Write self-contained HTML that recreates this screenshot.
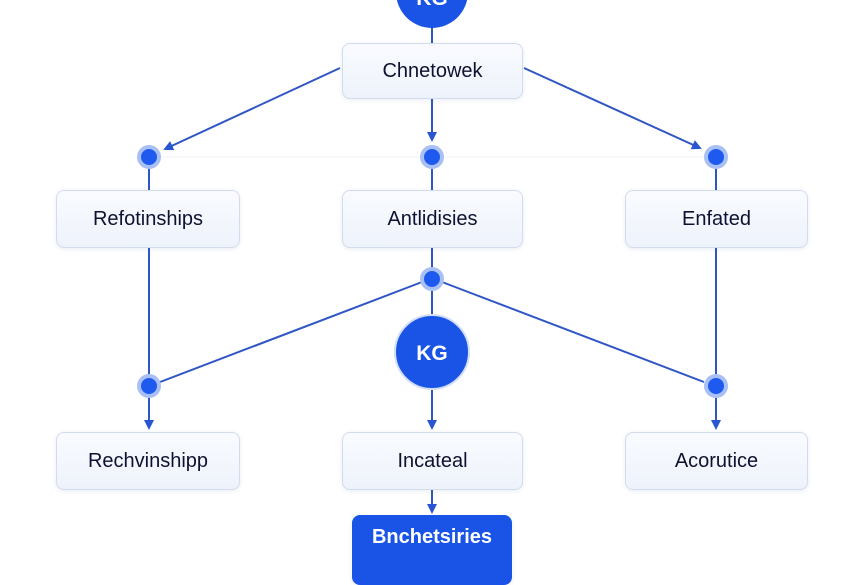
<!DOCTYPE html>
<html><head><style>
html,body{margin:0;padding:0;background:#fff;}
body{width:864px;height:576px;position:relative;overflow:hidden;font-family:"Liberation Sans",sans-serif;}
.box{position:absolute;box-sizing:border-box;border:1.5px solid #d3dcec;border-radius:8px;background:linear-gradient(#f9fbff,#eef3fb);display:flex;align-items:center;justify-content:center;font-size:20px;color:#0e1230;box-shadow:0 1px 4px rgba(60,90,160,0.12);}
svg{position:absolute;left:0;top:0;}
</style></head><body>
<svg width="864" height="576">
<defs><marker id="a" markerWidth="10" markerHeight="10" refX="8" refY="5" orient="auto" markerUnits="userSpaceOnUse"><path d="M0,0 L10,5 L0,10 z" fill="#2a55d0"/></marker></defs>
<line x1="160" y1="157" x2="705" y2="157" stroke="#f2f3f6" stroke-width="1"/>
<g stroke="#2f56c4" stroke-width="2" fill="none">
<line x1="432" y1="25" x2="432" y2="45"/>
<line x1="340" y1="68" x2="165" y2="149" marker-end="url(#a)"/>
<line x1="524" y1="68" x2="700" y2="148" marker-end="url(#a)"/>
<line x1="432" y1="98" x2="432" y2="140" marker-end="url(#a)"/>
<line x1="149" y1="166" x2="149" y2="190"/>
<line x1="432" y1="166" x2="432" y2="190"/>
<line x1="716" y1="166" x2="716" y2="190"/>
<line x1="149" y1="248" x2="149" y2="376"/>
<line x1="716" y1="248" x2="716" y2="376"/>
<line x1="432" y1="248" x2="432" y2="270"/>
<line x1="432" y1="288" x2="432" y2="316"/>
<line x1="422" y1="282" x2="160" y2="382"/>
<line x1="442" y1="282" x2="704" y2="382"/>
<line x1="149" y1="396" x2="149" y2="428" marker-end="url(#a)"/>
<line x1="716" y1="396" x2="716" y2="428" marker-end="url(#a)"/>
<line x1="432" y1="389" x2="432" y2="428" marker-end="url(#a)"/>
<line x1="432" y1="490" x2="432" y2="512" marker-end="url(#a)"/>
</g>
<g fill="#1f5af0" stroke="#a9c0f5" stroke-width="4">
<circle cx="149" cy="157" r="10"/><circle cx="432" cy="157" r="10"/><circle cx="716" cy="157" r="10"/>
<circle cx="432" cy="279" r="10"/><circle cx="149" cy="386" r="10"/><circle cx="716" cy="386" r="10"/>
</g>
<circle cx="432" cy="-8" r="36" fill="#1a54e6"/>
<circle cx="432" cy="352" r="37" fill="#1a54e6" stroke="#d3def9" stroke-width="2"/>
<text x="432" y="360" text-anchor="middle" font-family="Liberation Sans" font-weight="bold" font-size="21" fill="#fff">KG</text>
<text x="432" y="5" text-anchor="middle" font-family="Liberation Sans" font-weight="bold" font-size="21" fill="#fff">KG</text>
</svg>
<div class="box" style="left:342px;top:43px;width:181px;height:56px;">Chnetowek</div>
<div class="box" style="left:56px;top:190px;width:184px;height:58px;">Refotinships</div>
<div class="box" style="left:342px;top:190px;width:181px;height:58px;">Antlidisies</div>
<div class="box" style="left:625px;top:190px;width:183px;height:58px;">Enfated</div>
<div class="box" style="left:56px;top:432px;width:184px;height:58px;">Rechvinshipp</div>
<div class="box" style="left:342px;top:432px;width:181px;height:58px;">Incateal</div>
<div class="box" style="left:625px;top:432px;width:183px;height:58px;">Acorutice</div>
<div class="box" style="left:352px;top:515px;width:160px;height:70px;background:#1a54e6;border-color:#1a54e6;color:#fff;font-weight:bold;align-items:flex-start;padding-top:10px;">Bnchetsiries</div>
</body></html>
